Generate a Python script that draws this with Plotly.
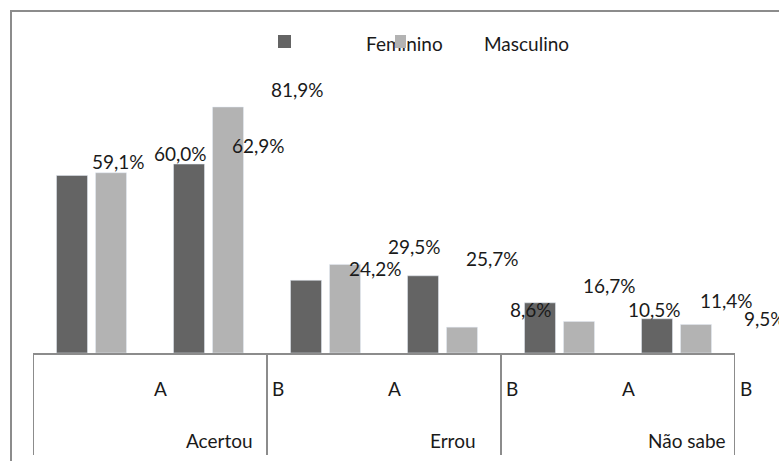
import plotly.graph_objects as go

# ---- data ----
categories = ["Acertou", "Errou", "Não sabe"]
subcategories = ["A", "B"]
feminino = [59.1, 62.9, 24.2, 25.7, 16.7, 11.4]
masculino = [60.0, 81.9, 29.5, 8.6, 10.5, 9.5]
series_names = ["Feminino", "Masculino"]

# ---- style ----
DARK = "#646464"
LIGHT = "#b3b3b3"
LINE = "#8c8c8c"
FONT = "Lato"
FS = 19
W, H = 779, 461
ML, MR, MT, MB = 33, 44, 11, 108
PW, PH = W - ML - MR, H - MT - MB
TEXT_SHIFT = 69          # all category text drawn shifted right
BAR_OFF = 19.5           # half distance between paired bars (px)
# per-label (dx, dy) adjustments, px
label_shift_f = [(-23, 14), (0, 19), (0, 12), (0, 17), (0, 17), (0, 18)]
label_shift_m = [(0, 19), (0, 17), (0, 18), (0, 18), (6, 12), (0, 6)]

n_sub = len(subcategories)
xpos = list(range(len(categories) * n_sub))

fig = go.Figure()
fig.add_trace(go.Bar(x=xpos, y=feminino, name=series_names[0], marker_color=DARK,
                     showlegend=False, hoverinfo="y"))
fig.add_trace(go.Bar(x=xpos, y=masculino, name=series_names[1], marker_color=LIGHT,
                     showlegend=False, hoverinfo="y"))

def fmt(v):
    return f"{v:.1f}".replace(".", ",") + "%"

ann = []
for vals, sgn, shifts in ((feminino, -1, label_shift_f), (masculino, 1, label_shift_m)):
    for i, v in enumerate(vals):
        dx, dy = shifts[i]
        ann.append(dict(x=xpos[i], y=v, xref="x", yref="y", text=fmt(v), showarrow=False,
                        xanchor="center", yanchor="middle",
                        xshift=sgn * BAR_OFF + TEXT_SHIFT + dx, yshift=dy,
                        font=dict(family=FONT, size=FS, color="#1a1a1a")))

shapes = []
# outer chart-area border (left & top visible, rest off canvas)
shapes.append(dict(type="rect", xref="paper", yref="paper",
                   x0=(11 - ML) / PW, x1=1.3, y0=-0.6, y1=1.0,
                   line=dict(color=LINE, width=2), layer="below"))
# category axis dividers
y_sub = -36 / PH
y_cat = -87 / PH
y_low = -102 / PH
for k in range(len(categories) + 1):
    xd = k * n_sub - 0.5
    shapes.append(dict(type="line", xref="x", yref="paper", x0=xd, x1=xd, y0=0, y1=y_low,
                       line=dict(color=LINE, width=2)))
for k, cat in enumerate(categories):
    for j, sub in enumerate(subcategories):
        ann.append(dict(x=k * n_sub + j, y=y_sub, xref="x", yref="paper", text=sub,
                        showarrow=False, xanchor="center", yanchor="middle",
                        xshift=TEXT_SHIFT, font=dict(family=FONT, size=FS, color="#1a1a1a")))
    ann.append(dict(x=k * n_sub + (n_sub - 1) / 2, y=y_cat, xref="x", yref="paper", text=cat,
                    showarrow=False, xanchor="center", yanchor="middle",
                    xshift=TEXT_SHIFT, font=dict(family=FONT, size=FS, color="#1a1a1a")))

# manual legend
def px_x(p):
    return (p - ML) / PW
def px_y(p):
    return 1 - (p - MT) / PH

ann.append(dict(x=px_x(364), y=px_y(43), xref="paper", yref="paper", text=series_names[0],
                showarrow=False, xanchor="left", yanchor="middle",
                font=dict(family=FONT, size=FS, color="#1a1a1a")))
ann.append(dict(x=px_x(482), y=px_y(43), xref="paper", yref="paper", text=series_names[1],
                showarrow=False, xanchor="left", yanchor="middle",
                font=dict(family=FONT, size=FS, color="#1a1a1a")))
for cx, col, w in ((284, DARK, 13), (400.5, LIGHT, 11)):
    ann.append(dict(x=px_x(cx), y=px_y(41.5), xref="paper", yref="paper", text=" ",
                    showarrow=False, xanchor="center", yanchor="middle",
                    width=w, height=13, bgcolor=col, borderpad=0, borderwidth=0,
                    font=dict(size=1)))

fig.update_layout(
    width=W, height=H,
    margin=dict(l=ML, r=MR, t=MT, b=MB, pad=0),
    paper_bgcolor="white", plot_bgcolor="white",
    barmode="group", bargap=1 - 78 / 117, bargroupgap=8 / 39,
    xaxis=dict(range=[-0.5, len(xpos) - 0.5], showticklabels=False, ticks="",
               showgrid=False, zeroline=False, showline=True, linecolor=LINE, linewidth=2),
    yaxis=dict(range=[0, PH / 3.004], visible=False, showgrid=False, zeroline=False),
    annotations=ann, shapes=shapes,
    showlegend=False,
)

fig.write_html(
    "out.html",
    config={"displayModeBar": False},
    post_script="document.body.style.margin='0';document.body.style.overflow='hidden';",
)
